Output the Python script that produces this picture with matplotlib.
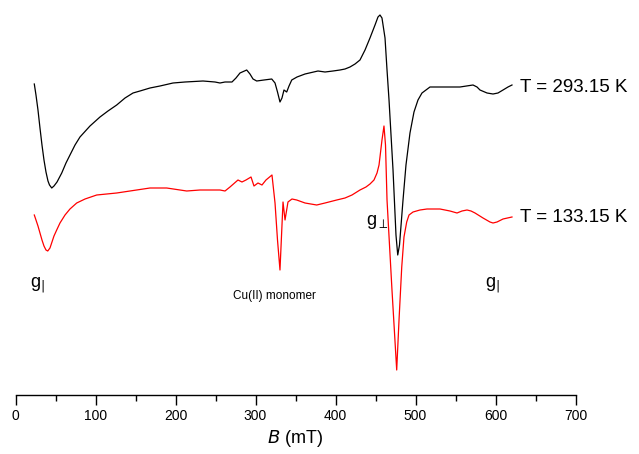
import matplotlib
matplotlib.use("Agg")
import matplotlib.pyplot as plt
from matplotlib.ticker import MultipleLocator

plt.rcParams['font.family'] = ['Liberation Sans', 'DejaVu Sans']

# field (mT) and signal (arb. units)
b_293 = [23.5, 25.6, 28.1, 30.6, 33.1, 35.6, 38.1, 40.6, 42.5, 45.3, 48.1, 51.9, 57.8, 63.1, 68.1,
         74.4, 80.6, 93.1, 105.6, 115.6, 126.5, 136.9, 146.9, 155.6, 168.1, 180.6, 196.9, 211.9,
         234.4, 249.4, 255.6, 261.9, 270.6, 275.6, 280.6, 289, 293.1, 296.9, 301.5, 310.6, 320.3,
         324.4, 327.5, 330.6, 333.1, 335.6, 339, 341.9, 345.3, 351.9, 361.9, 378.1, 386.9, 396.9,
         405.6, 411.9, 418.1, 424.4, 430.6, 436.9, 443.1, 449.4, 453.1, 455.6, 458.1, 461.9, 464.4,
         466.9, 471.9, 475.6, 477.8, 480, 484.4, 488.1, 493.1, 498.1, 503.1, 508.1, 518.1, 536.9,
         555.6, 571.9, 576.9, 580.6, 589.4, 596.9, 603.1, 609.4, 615.6, 620.6]
i_293 = [311, 300, 285, 267, 250, 235, 223, 214, 210, 207, 209, 213, 222, 232, 240,
         250, 258, 269, 278, 284, 290, 297, 302, 304, 307, 309, 312, 313,
         314, 313, 312, 313, 313, 317, 322, 325, 321, 316, 314, 315, 316,
         312, 303, 293, 297, 305, 303, 309, 315, 318, 321, 324, 323, 324,
         325, 326, 328, 331, 335, 345, 357, 370, 378, 380, 377, 357, 325,
         295, 225, 160, 140, 150, 195, 230, 262, 283, 295, 302, 308, 308,
         308, 310, 308, 305, 302, 301, 302, 305, 308, 310]

b_133 = [23.5, 25.6, 28.1, 30.6, 33.1, 35.6, 38.1, 40.3, 43.1, 45.6, 48.1, 51.5, 55.6, 61.9, 68.1,
         76.5, 86.9, 101.5, 126.5, 143.1, 168.1, 189, 214, 230.6, 255.6, 261.9, 268.1, 278.1,
         283.1, 288.1, 294.4, 298.1, 303.1, 308.1, 313.1, 320.6, 324.4, 327.5, 330.6, 334.4,
         336.9, 340.6, 345.6, 351.5, 361.9, 376.5, 386.9, 401.5, 411.9, 420.6, 430.6, 438.1,
         443.1, 448.1, 451.9, 454.4, 455.6, 458.1, 460.6, 462.5, 464.4, 470.6, 476.5, 479.4,
         482.8, 485.6, 489, 491.9, 496.9, 505.6, 514.4, 530.6, 543.1, 551.9, 558.1, 564.4,
         569.4, 574.4, 584.4, 593.1, 596.9, 601.9, 609.4, 620.6]
i_133 = [180, 175, 169, 162, 155, 149, 145, 144, 147, 153, 159, 165, 172, 180, 186,
         192, 196, 200, 202, 204, 207, 207, 204, 205, 205, 204, 208, 215,
         213, 215, 218, 209, 212, 210, 215, 220, 192, 155, 125, 193,
         175, 193, 196, 195, 192, 190, 192, 195, 197, 200, 205, 208,
         211, 215, 222, 230, 238, 255, 269, 250, 195, 105, 25, 75,
         128, 158, 173, 180, 183, 185, 186, 186, 184, 182, 184, 185,
         184, 182, 177, 173, 172, 173, 176, 178]

labels_t = ['T = 293.15 K', 'T = 133.15 K']

fig = plt.figure(figsize=(6.39, 4.54), dpi=100)
ax = fig.add_axes([15.5 / 639, 1 - 395 / 454, 560 / 639, 395 / 454])

ax.plot(b_293, i_293, color='black', lw=0.9)
ax.plot(b_133, i_133, color='red', lw=0.9)

ax.set_xlim(0, 700)
ax.set_ylim(0, 395)
for s in ['top', 'left', 'right']:
    ax.spines[s].set_visible(False)
ax.spines['bottom'].set_linewidth(1.0)
ax.set_yticks([])
ax.xaxis.set_major_locator(MultipleLocator(100))
ax.xaxis.set_minor_locator(MultipleLocator(50))
ax.tick_params(axis='x', which='major', length=7, width=1.0, labelsize=10, pad=3)
ax.tick_params(axis='x', which='minor', length=4, width=1.0)
ax.set_xlabel(r'$\mathit{B}$ (mT)', fontsize=13, labelpad=4)

# labels
ax.text(631, 308, labels_t[0], fontsize=13.5, va='center', ha='left', clip_on=False)
ax.text(631, 178, labels_t[1], fontsize=13.5, va='center', ha='left', clip_on=False)
ax.text(28, 110, r'g$_{|}$', fontsize=13, ha='center', va='center')
ax.text(596, 110, r'g$_{|}$', fontsize=13, ha='center', va='center')
ax.text(452, 173, r'g$_{\perp}$', fontsize=13, ha='center', va='center')
ax.text(324, 99, 'Cu(II) monomer', fontsize=8.5, ha='center', va='center')

fig.savefig('out.png', dpi=100)
